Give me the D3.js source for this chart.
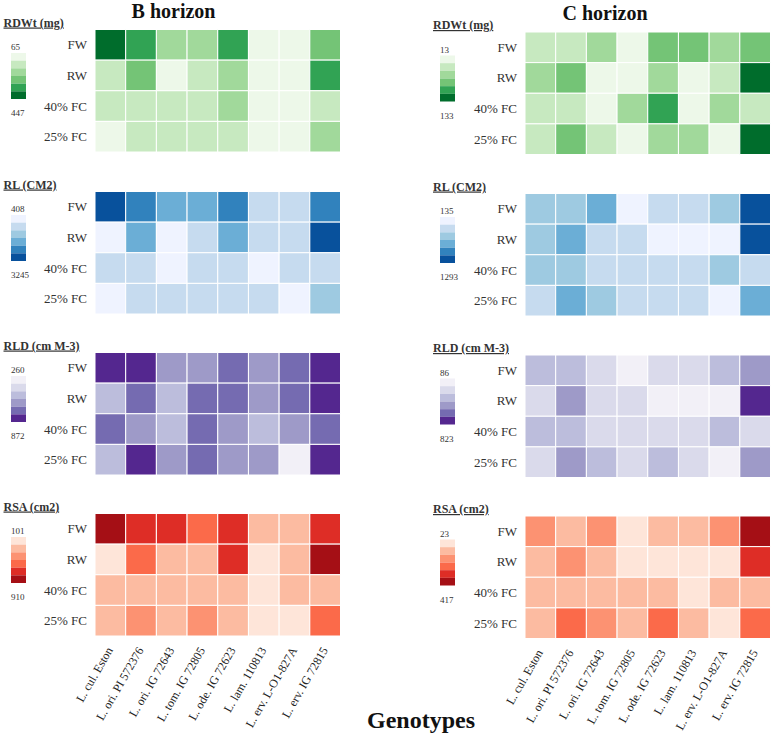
<!DOCTYPE html>
<html>
<head>
<meta charset="utf-8">
<script src="https://cdn.jsdelivr.net/npm/d3@7"></script>
<style>
  body { margin: 0; background: #fff; }
  text { font-family: "Liberation Serif", "DejaVu Serif", serif; }
</style>
</head>
<body>
<svg id="chart"></svg>
<script>
// Columns and rows of every heatmap
const genotypes = ["L. cul. Eston", "L. ori. PI 572376", "L. ori. IG 72643", "L. tom. IG 72805",
  "L. ode. IG 72623", "L. lam. 110813", "L. erv. L-O1-827A", "L. erv. IG 72815"];
const conditions = ["FW", "RW", "40% FC", "25% FC"];
const horizons = ["B horizon", "C horizon"];
const traits = ["RDWt (mg)", "RL (CM2)", "RLD (cm M-3)", "RSA (cm2)"];

// min / max printed on each legend
const legendB = [[65, 447], [408, 3245], [260, 872], [101, 910]];
const legendC = [[13, 133], [135, 1293], [86, 823], [23, 417]];

// B horizon (rows = conditions, columns = genotypes)
const rdwtB = [
  [447, 352, 231, 218, 338, 78, 72, 287],
  [162, 274, 118, 171, 236, 86, 81, 361],
  [150, 147, 139, 158, 214, 94, 70, 166],
  [112, 142, 155, 149, 176, 65, 90, 221]
];
const rlB = [
  [3245, 2530, 2010, 1950, 2610, 1040, 1090, 2480],
  [560, 1980, 610, 1130, 1870, 1010, 1180, 3050],
  [1120, 1060, 640, 980, 1150, 720, 1010, 1100],
  [408, 1200, 1080, 1150, 1090, 1030, 690, 1560]
];
const rldB = [
  [872, 845, 590, 610, 705, 620, 720, 815],
  [500, 700, 480, 690, 735, 600, 680, 830],
  [715, 620, 505, 710, 595, 490, 605, 690],
  [475, 860, 580, 730, 600, 615, 260, 850]
];
const rsaB = [
  [910, 720, 700, 580, 690, 330, 315, 710],
  [101, 560, 340, 310, 730, 170, 345, 875],
  [300, 290, 320, 335, 305, 200, 330, 310],
  [295, 430, 310, 460, 300, 180, 210, 590]
];

// C horizon
const rdwtC = [
  [41, 45, 61, 27, 79, 84, 66, 87],
  [58, 81, 21, 25, 64, 18, 39, 133],
  [44, 38, 29, 62, 101, 24, 57, 42],
  [36, 76, 47, 13, 59, 63, 30, 128]
];
const rlC = [
  [590, 560, 790, 170, 450, 430, 600, 1293],
  [580, 760, 410, 460, 250, 210, 240, 1220],
  [610, 550, 400, 450, 430, 470, 580, 390],
  [440, 740, 540, 420, 460, 410, 135, 780]
];
const rldC = [
  [385, 405, 260, 150, 290, 300, 370, 520],
  [275, 510, 250, 290, 170, 130, 120, 823],
  [395, 360, 280, 310, 250, 285, 410, 265],
  [240, 500, 380, 300, 375, 295, 86, 490]
];
const rsaC = [
  [180, 125, 175, 60, 130, 140, 185, 417],
  [140, 170, 120, 65, 70, 55, 50, 320],
  [115, 130, 125, 135, 120, 80, 140, 110],
  [125, 240, 190, 135, 250, 120, 23, 245]
];

const valuesB = [rdwtB, rlB, rldB, rsaB];
const valuesC = [rdwtC, rlC, rldC, rsaC];
const schemes = [d3.schemeGreens[6], d3.schemeBlues[6], d3.schemePurples[6], d3.schemeReds[6]];

// Layout
const width = 773, height = 742;
const gridW = 245.5, gridH = 122.5;
const gridX = [95, 525];
const gridTop = [[29.5, 191.5, 352.5, 513.5], [32, 193.5, 355, 516]];
const titleX = [3.5, 433];
const legX = [11, 440];

const svg = d3.select("#chart")
  .attr("width", width)
  .attr("height", height)
  .style("display", "block")
  .style("background", "#fff");

const x = [0, 1].map(h => d3.scaleBand().domain(genotypes).range([gridX[h], gridX[h] + gridW]));

horizons.forEach((hName, h) => {
  const vals = h === 0 ? valuesB : valuesC;
  const legs = h === 0 ? legendB : legendC;

  traits.forEach((trait, t) => {
    const top = gridTop[h][t];
    const y = d3.scaleBand().domain(conditions).range([top, top + gridH]);
    const color = d3.scaleQuantize().domain(legs[t]).range(schemes[t]);

    const cells = [];
    conditions.forEach((c, i) => genotypes.forEach((g, j) => cells.push({ c, g, v: vals[t][i][j] })));

    const g = svg.append("g");
    g.selectAll("rect.cell")
      .data(cells)
      .enter()
      .append("rect")
      .attr("class", "cell")
      .attr("x", d => x[h](d.g))
      .attr("y", d => y(d.c))
      .attr("width", x[h].bandwidth())
      .attr("height", y.bandwidth())
      .attr("fill", d => color(d.v))
      .attr("stroke", "#fff")
      .attr("stroke-width", 1);

    // row labels
    g.selectAll("text.row")
      .data(conditions)
      .enter()
      .append("text")
      .attr("class", "row")
      .attr("x", gridX[h] - 8)
      .attr("y", d => y(d) + y.bandwidth() / 2)
      .attr("dy", "0.35em")
      .attr("text-anchor", "end")
      .style("font-size", "13px")
      .style("fill", "#333")
      .text(d => d);

    // legend title
    g.append("text")
      .attr("x", titleX[h])
      .attr("y", top - 3)
      .style("font-size", "12px")
      .style("font-weight", "bold")
      .style("text-decoration", "underline")
      .style("fill", "#333")
      .text(trait);

    // legend swatches
    const ly = d3.scaleBand().domain(d3.range(6)).range([top + 23.5, top + 69.5]);
    g.selectAll("rect.leg")
      .data(schemes[t])
      .enter()
      .append("rect")
      .attr("class", "leg")
      .attr("x", legX[h])
      .attr("y", (d, i) => ly(i))
      .attr("width", 15)
      .attr("height", ly.bandwidth())
      .attr("fill", d => d);

    g.append("text")
      .attr("x", legX[h])
      .attr("y", top + 20.5)
      .style("font-size", "9px")
      .style("fill", "#333")
      .text(legs[t][0]);
    g.append("text")
      .attr("x", legX[h])
      .attr("y", top + 86.5)
      .style("font-size", "9px")
      .style("fill", "#333")
      .text(legs[t][1]);

    // genotype labels under the last panel
    if (t === traits.length - 1) {
      g.selectAll("text.geno")
        .data(genotypes)
        .enter()
        .append("text")
        .attr("class", "geno")
        .attr("text-anchor", "end")
        .attr("transform", d => `translate(${x[h](d) + x[h].bandwidth() / 2 + 3}, ${top + gridH + 14}) rotate(-60)`)
        .style("font-size", "12px")
        .style("fill", "#222")
        .text(d => d);
    }
  });

  // horizon heading
  svg.append("text")
    .attr("x", h === 0 ? 173.5 : 605)
    .attr("y", h === 0 ? 18 : 20)
    .attr("text-anchor", "middle")
    .style("font-size", "20px")
    .style("font-weight", "bold")
    .style("fill", "#111")
    .text(hName);
});

svg.append("text")
  .attr("x", 421)
  .attr("y", 728)
  .attr("text-anchor", "middle")
  .style("font-size", "24px")
  .style("font-weight", "bold")
  .style("fill", "#111")
  .text("Genotypes");
</script>
</body>
</html>
